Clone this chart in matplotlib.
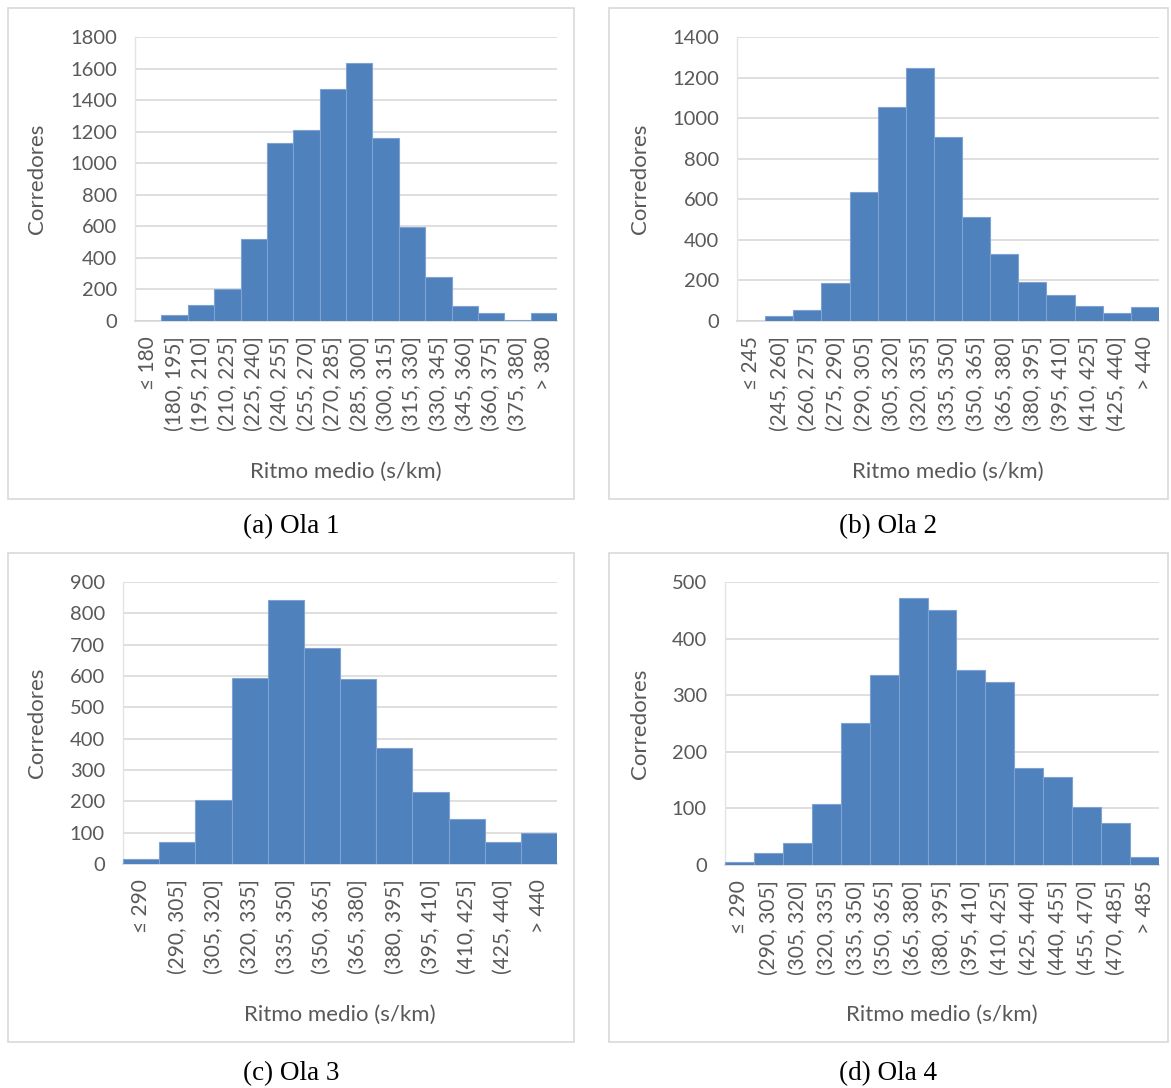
import matplotlib
matplotlib.use("Agg")
import matplotlib.pyplot as plt
from matplotlib.patches import Rectangle

plt.rcParams['font.family'] = ['Lato', 'DejaVu Sans']

# --- data -------------------------------------------------------------
labels_a = ["≤ 180", "(180, 195]", "(195, 210]", "(210, 225]", "(225, 240]",
            "(240, 255]", "(255, 270]", "(270, 285]", "(285, 300]", "(300, 315]",
            "(315, 330]", "(330, 345]", "(345, 360]", "(360, 375]", "(375, 380]",
            "> 380"]
counts_a = [2, 38, 101, 203, 519, 1127, 1213, 1473, 1637, 1160, 595, 276, 97, 51, 6, 51]

labels_b = ["≤ 245", "(245, 260]", "(260, 275]", "(275, 290]", "(290, 305]",
            "(305, 320]", "(320, 335]", "(335, 350]", "(350, 365]", "(365, 380]",
            "(380, 395]", "(395, 410]", "(410, 425]", "(425, 440]", "> 440"]
counts_b = [2, 23, 56, 187, 638, 1053, 1247, 905, 513, 331, 191, 127, 76, 39, 67]

labels_c = ["≤ 290", "(290, 305]", "(305, 320]", "(320, 335]", "(335, 350]",
            "(350, 365]", "(365, 380]", "(380, 395]", "(395, 410]", "(410, 425]",
            "(425, 440]", "> 440"]
counts_c = [17, 71, 203, 594, 843, 688, 592, 369, 230, 145, 71, 99]

labels_d = ["≤ 290", "(290, 305]", "(305, 320]", "(320, 335]", "(335, 350]",
            "(350, 365]", "(365, 380]", "(380, 395]", "(395, 410]", "(410, 425]",
            "(425, 440]", "(440, 455]", "(455, 470]", "(470, 485]", "> 485"]
counts_d = [5, 21, 39, 108, 251, 336, 472, 450, 344, 323, 172, 155, 102, 75, 15]

y_max = [1800, 1400, 900, 500]
y_step = [200, 200, 100, 100]
captions = ["(a) Ola 1", "(b) Ola 2", "(c) Ola 3", "(d) Ola 4"]

# --- layout (pixels) --------------------------------------------------
W, H = 1171, 1088
fig = plt.figure(figsize=(W / 100, H / 100), dpi=100)

def fx(x):
    return x / W

def fy(y):
    return 1 - y / H

BAR = "#4f81bd"
EDGE = "#7ea3d2"
TXT = "#595959"
GRID = "#d9d9d9"

panels = [
    dict(box=(8, 8, 574, 499), ax=(135, 37, 557, 321), ylab_x=37, xlab_y=472, cap=(291, 527)),
    dict(box=(609, 8, 1168, 499), ax=(737, 37, 1159, 321), ylab_x=640, xlab_y=472, cap=(888, 527)),
    dict(box=(8, 553, 574, 1042), ax=(123, 582, 557, 864), ylab_x=37, xlab_y=1015, cap=(291, 1074)),
    dict(box=(609, 553, 1168, 1042), ax=(725, 582, 1159, 865), ylab_x=640, xlab_y=1015, cap=(888, 1074)),
]

datasets = [(labels_a, counts_a), (labels_b, counts_b), (labels_c, counts_c), (labels_d, counts_d)]

for i, (p, (labels, counts)) in enumerate(zip(panels, datasets)):
    bx0, by0, bx1, by1 = p["box"]
    fig.add_artist(Rectangle((fx(bx0), fy(by1)), fx(bx1 - bx0), (by1 - by0) / H,
                             transform=fig.transFigure, fill=False,
                             edgecolor=GRID, linewidth=1.2))

    x0, y0, x1, y1 = p["ax"]
    ax = fig.add_axes([fx(x0), fy(y1), fx(x1 - x0), (y1 - y0) / H])
    pos = list(range(len(counts)))
    ax.bar(pos, counts, width=1.0, color=BAR, edgecolor=EDGE, linewidth=0.8, zorder=3)
    ax.set_xlim(-0.5, len(counts) - 0.5)
    ax.set_ylim(0, y_max[i])
    ax.set_yticks(range(0, y_max[i] + 1, y_step[i]))
    ax.set_xticks(pos)
    ax.set_xticklabels(labels, rotation=90, fontsize=15, color=TXT)
    ax.tick_params(axis='y', labelsize=14.5, labelcolor=TXT, length=0, pad=13)
    ax.tick_params(axis='x', length=0, pad=11)
    ax.yaxis.grid(True, color=GRID, linewidth=1.2, zorder=0)
    ax.set_axisbelow(True)
    for s in ("top", "right"):
        ax.spines[s].set_visible(False)
    ax.spines["left"].set_color("#e4e4e4")
    ax.spines["left"].set_linewidth(1.0)
    ax.spines["bottom"].set_color(GRID)
    ax.spines["bottom"].set_linewidth(1.2)

    fig.text(fx(p["ylab_x"]), fy((y0 + y1) / 2), "Corredores", rotation=90,
             ha="center", va="center", fontsize=16, color=TXT)
    fig.text(fx((x0 + x1) / 2), fy(p["xlab_y"]), "Ritmo medio (s/km)",
             ha="center", va="center", fontsize=16, color=TXT)
    cx, cy = p["cap"]
    fig.text(fx(cx), fy(cy), captions[i], ha="center", va="center",
             fontsize=19.5, color="black", family=["Liberation Serif", "DejaVu Serif"])

fig.savefig("out.png", dpi=100, facecolor="white")
